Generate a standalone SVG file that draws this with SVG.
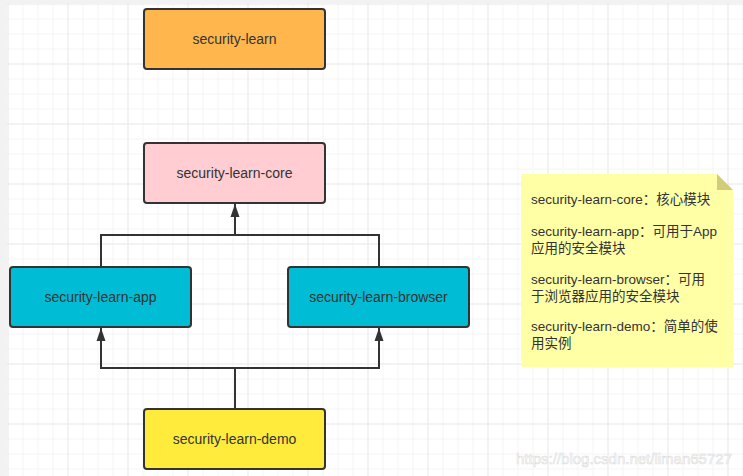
<svg xmlns="http://www.w3.org/2000/svg" width="743" height="476" viewBox="0 0 743 476">
<style>
.box{stroke:#333;stroke-width:2}
.lbl{font-family:"Liberation Sans","Noto Sans CJK SC",sans-serif;font-size:14px;fill:#333;text-anchor:middle}
.note{font-family:"Liberation Sans","Noto Sans CJK SC",sans-serif;font-size:13.5px;fill:#333}
.edge{fill:none;stroke:#333;stroke-width:2}
</style>
<defs>
<pattern id="minor" x="7.5" y="3.5" width="15" height="15" patternUnits="userSpaceOnUse">
<path d="M0 0V15M0 0H15" fill="none" stroke="#ececec" stroke-width="1"/>
</pattern>
<pattern id="major" x="7.5" y="3.5" width="60" height="60" patternUnits="userSpaceOnUse">
<path d="M0 0V60M0 0H60" fill="none" stroke="#e0e0e0" stroke-width="1"/>
</pattern>
<marker id="arr" markerUnits="userSpaceOnUse" markerWidth="14" markerHeight="12" viewBox="0 0 14 12" refX="13" refY="6" orient="auto">
<path d="M0 1.5L13 6L0 10.5Z" fill="#333"/>
</marker>
</defs>
<rect width="743" height="476" fill="#f2f2f2"/>
<rect x="7" y="3" width="736" height="473" fill="#fff"/>
<rect x="7" y="3" width="736" height="473" fill="url(#minor)"/>
<rect x="7" y="3" width="736" height="473" fill="url(#major)"/>
<g id="connectors">
<path class="edge" d="M101 267V235H379V267"/>
<path class="edge" d="M235 235V204" marker-end="url(#arr)"/>
<path class="edge" d="M235 409V368H101V328" marker-end="url(#arr)"/>
<path class="edge" d="M235 368H379V328" marker-end="url(#arr)"/>
</g>
<g id="security-learn">
<rect class="box" x="144" y="9" width="181" height="60" rx="3" fill="#ffb74d"/>
<text class="lbl" x="234.5" y="44">security-learn</text>
</g>
<g id="security-learn-core">
<rect class="box" x="144" y="143" width="181" height="60" rx="3" fill="#ffcdd2"/>
<text class="lbl" x="234.5" y="178">security-learn-core</text>
</g>
<g id="security-learn-app">
<rect class="box" x="10" y="267" width="181" height="60" rx="3" fill="#00bcd4"/>
<text class="lbl" x="100.5" y="302">security-learn-app</text>
</g>
<g id="security-learn-browser">
<rect class="box" x="288" y="267" width="181" height="60" rx="3" fill="#00bcd4"/>
<text class="lbl" x="378.5" y="302">security-learn-browser</text>
</g>
<g id="security-learn-demo">
<rect class="box" x="144" y="409" width="181" height="60" rx="3" fill="#ffeb3b"/>
<text class="lbl" x="234.5" y="444">security-learn-demo</text>
</g>
<g id="note">
<path d="M521 174H717L733 190V367H521Z" fill="#ffffa6"/>
<path d="M717 174L733 190H717Z" fill="#d0cc7a"/>
<text class="note" x="531" y="204">security-learn-core：核心模块</text>
<text class="note" x="531" y="236">security-learn-app：可用于App</text>
<text class="note" x="531" y="253">应用的安全模块</text>
<text class="note" x="531" y="284">security-learn-browser：可用</text>
<text class="note" x="531" y="301">于浏览器应用的安全模块</text>
<text class="note" x="531" y="331">security-learn-demo：简单的使</text>
<text class="note" x="531" y="348">用实例</text>
</g>
<text x="732" y="464" text-anchor="end" font-family="Liberation Sans,sans-serif" font-size="15" fill="#ffffff" stroke="#dcdcdc" stroke-width="0.6">https://blog.csdn.net/liman65727</text>
</svg>
